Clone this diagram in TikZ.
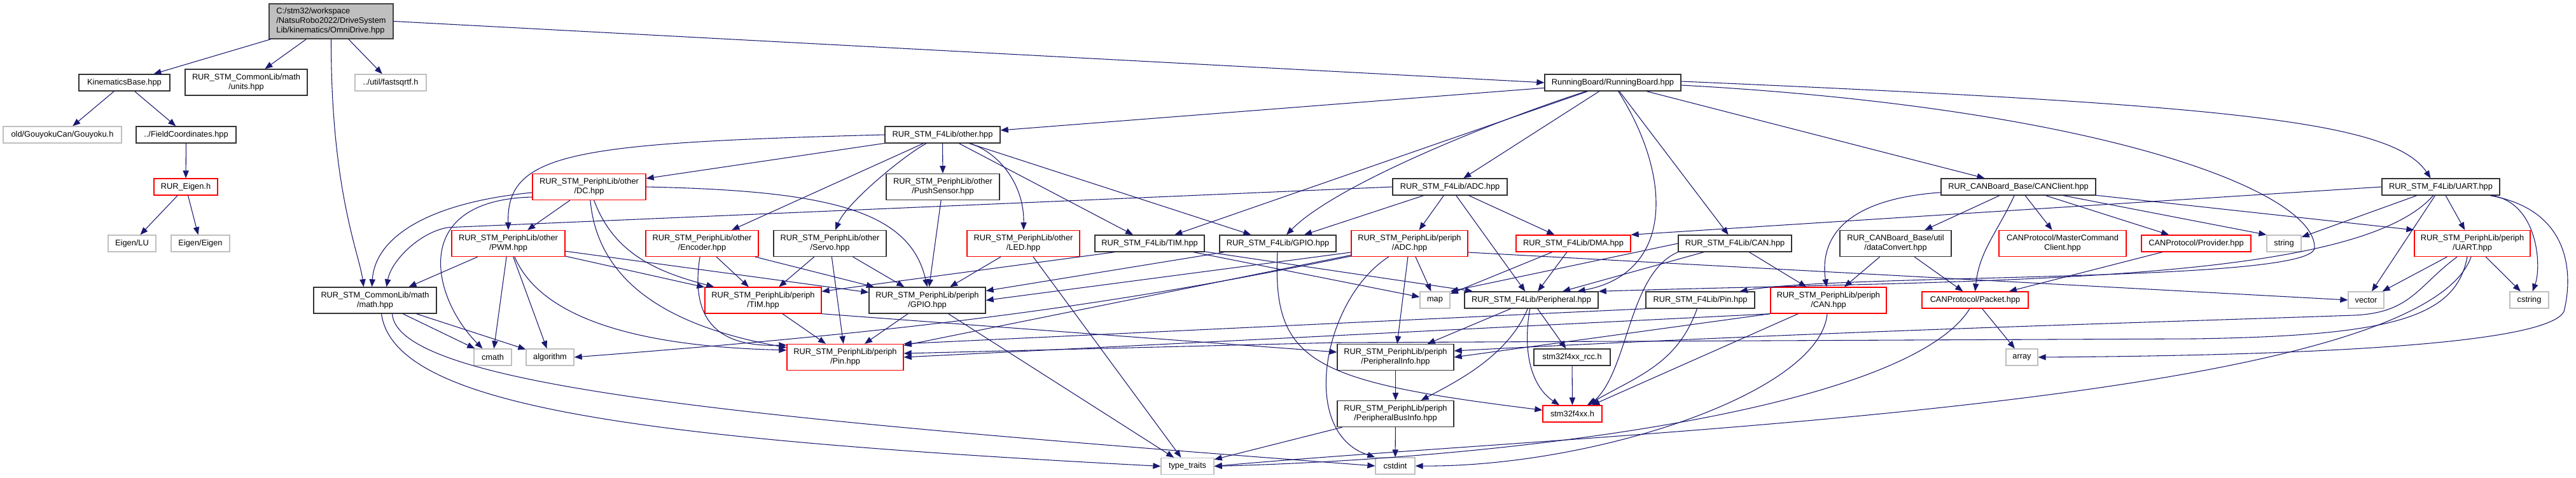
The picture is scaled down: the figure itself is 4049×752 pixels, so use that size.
\documentclass[tikz,border=0pt]{standalone}
\usepackage{fontspec}
\setmainfont{Liberation Sans}
\usepackage{tikz}
\usetikzlibrary{arrows.meta, calc}
\definecolor{edgeblue}{HTML}{191970}
\definecolor{boxgray}{HTML}{BFBFBF}

\begin{document}
\begin{tikzpicture}[
    x=0.75pt, y=-0.75pt,
    >={Triangle[length=9pt, width=7pt]},
    font=\fontsize{9.6}{11.2}\selectfont,
    box/.style={rectangle, inner sep=1pt, align=center, line width=1pt},
    incl/.style={box, draw=black!80},
    trunc/.style={box, draw=red},
    ext/.style={box, draw=boxgray},
    hdr/.style={box, draw=black!75, fill=boxgray, align=left,
                minimum height=41.25pt},
    bw/.style={minimum width=#1*0.75pt},
    one/.style={minimum height=19.5pt},
    two/.style={minimum height=30.75pt},
    dep/.style={->, edgeblue, line width=0.8pt},
]
\useasboundingbox (0,0) rectangle (4049,752);

% ═══════════════════════════════════════════════════════════════════════════
%  Nodes (pixel grid, y downwards)
% ═══════════════════════════════════════════════════════════════════════════
\node[hdr, bw=195] (Main) at (520.5,33.5)
    {C:/stm32/workspace\\/NatsuRobo2022/DriveSystem\\Lib/kinematics/OmniDrive.hpp};

% kinematics side
\node[incl, one, bw=143] (KinB) at (195.5,130) {KinematicsBase.hpp};
\node[incl, two, bw=192] (Units) at (387,129.5) {RUR\_STM\_CommonLib/math\\/units.hpp};
\node[ext, one, bw=112] (FSqrt) at (614,130) {../util/fastsqrtf.h};
\node[ext, one, bw=186] (Gouy) at (98,212) {old/GouyokuCan/Gouyoku.h};
\node[incl, one, bw=157] (FieldC) at (292.5,212) {../FieldCoordinates.hpp};
\node[trunc, one, bw=100] (REigen) at (292,294) {RUR\_Eigen.h};
\node[ext, one, bw=75] (ELU) at (207.5,383) {Eigen/LU};
\node[ext, one, bw=92] (EEig) at (315,383) {Eigen/Eigen};
\node[incl, two, bw=193] (MathH) at (589.5,472.5) {RUR\_STM\_CommonLib/math\\/math.hpp};

% other.hpp family
\node[incl, one, bw=181] (Other) at (1481.5,212) {RUR\_STM\_F4Lib/other.hpp};
\node[trunc, two, bw=178] (DC) at (926,294) {RUR\_STM\_PeriphLib/other\\/DC.hpp};
\node[incl, two, bw=178] (Push) at (1482,294) {RUR\_STM\_PeriphLib/other\\/PushSensor.hpp};
\node[trunc, two, bw=178] (PWM) at (799,383) {RUR\_STM\_PeriphLib/other\\/PWM.hpp};
\node[trunc, two, bw=177] (Enc) at (1103.5,383) {RUR\_STM\_PeriphLib/other\\/Encoder.hpp};
\node[incl, two, bw=177] (Servo) at (1304.5,383) {RUR\_STM\_PeriphLib/other\\/Servo.hpp};
\node[trunc, two, bw=177] (LED) at (1608.5,383) {RUR\_STM\_PeriphLib/other\\/LED.hpp};
\node[incl, one, bw=172] (FTIM) at (1807,383) {RUR\_STM\_F4Lib/TIM.hpp};
\node[incl, one, bw=183] (FGPIO) at (2008.5,383) {RUR\_STM\_F4Lib/GPIO.hpp};
\node[trunc, two, bw=183] (PTIM) at (1199.5,472.5) {RUR\_STM\_PeriphLib/periph\\/TIM.hpp};
\node[incl, two, bw=183] (PGPIO) at (1457.5,472.5) {RUR\_STM\_PeriphLib/periph\\/GPIO.hpp};
\node[trunc, two, bw=183] (PPin) at (1328.5,562) {RUR\_STM\_PeriphLib/periph\\/Pin.hpp};
\node[ext, one, bw=59] (CMath) at (774.5,562) {cmath};
\node[ext, one, bw=75] (Algo) at (864.5,562) {algorithm};
\node[ext, one, bw=83] (TypeT) at (1866.5,733.5) {type\_traits};

% RunningBoard family
\node[incl, one, bw=214] (RunB) at (2535,130) {RunningBoard/RunningBoard.hpp};
\node[incl, one, bw=180] (FADC) at (2279,294) {RUR\_STM\_F4Lib/ADC.hpp};
\node[trunc, two, bw=183] (PADC) at (2215.5,383) {RUR\_STM\_PeriphLib/periph\\/ADC.hpp};
\node[trunc, one, bw=180] (FDMA) at (2473,383) {RUR\_STM\_F4Lib/DMA.hpp};
\node[incl, one, bw=178] (FCAN) at (2727,383) {RUR\_STM\_F4Lib/CAN.hpp};
\node[ext, one, bw=47] (Map) at (2255.5,472) {map};
\node[incl, one, bw=210] (FPeri) at (2407,472) {RUR\_STM\_F4Lib/Peripheral.hpp};
\node[incl, one, bw=171] (FPin) at (2672.5,472) {RUR\_STM\_F4Lib/Pin.hpp};
\node[trunc, two, bw=182] (PCAN) at (2874,472.5) {RUR\_STM\_PeriphLib/periph\\/CAN.hpp};
\node[incl, two, bw=183] (PInfo) at (2193.5,562) {RUR\_STM\_PeriphLib/periph\\/PeripheralInfo.hpp};
\node[incl, one, bw=120] (RCC) at (2471,562) {stm32f4xx\_rcc.h};
\node[incl, two, bw=183] (PBus) at (2193.5,651) {RUR\_STM\_PeriphLib/periph\\/PeripheralBusInfo.hpp};
\node[trunc, one, bw=93] (STM) at (2471.5,651) {stm32f4xx.h};
\node[ext, one, bw=62] (CStdInt) at (2193,733) {cstdint};

% CAN client and UART
\node[incl, one, bw=243] (CANCl) at (3172.5,294) {RUR\_CANBoard\_Base/CANClient.hpp};
\node[incl, two, bw=175] (DConv) at (2979.5,383) {RUR\_CANBoard\_Base/util\\/dataConvert.hpp};
\node[trunc, two, bw=200] (MCmd) at (3242,383) {CANProtocol/MasterCommand\\Client.hpp};
\node[trunc, one, bw=172] (Prov) at (3452,383) {CANProtocol/Provider.hpp};
\node[trunc, one, bw=167] (Pkt) at (3104.5,472) {CANProtocol/Packet.hpp};
\node[ext, one, bw=50] (Arr) at (3178,562) {array};
\node[incl, one, bw=185] (FUART) at (3836.5,294) {RUR\_STM\_F4Lib/UART.hpp};
\node[ext, one, bw=54] (Str) at (3590,383) {string};
\node[trunc, two, bw=182] (PUART) at (3886,383) {RUR\_STM\_PeriphLib/periph\\/UART.hpp};
\node[ext, one, bw=56] (Vec) at (3719,472) {vector};
\node[ext, one, bw=61] (CStr) at (3975.5,472) {cstring};

% ═══════════════════════════════════════════════════════════════════════════
%  Include edges
% ═══════════════════════════════════════════════════════════════════════════
% OmniDrive.hpp
\draw[dep] (Main) -- (KinB);
\draw[dep] (Main) -- (Units);
\draw[dep] (Main) -- (FSqrt);
\draw[dep] (Main.south) .. controls (520,300) and (565,400) .. ($(MathH.north)+(-18,0)$);
\draw[dep] (Main.east) -- (RunB.west);

% kinematics side
\draw[dep] (KinB) -- (Gouy);
\draw[dep] (KinB) -- (FieldC);
\draw[dep] (FieldC) -- (REigen);
\draw[dep] (REigen) -- (ELU);
\draw[dep] (REigen) -- (EEig);

% math.hpp
\draw[dep] (MathH) -- (CMath);
\draw[dep] (MathH) -- (Algo);
\draw[dep] ($(MathH.south)+(27,0)$) .. controls (625,610) and (1200,660) .. (CStdInt.west);
\draw[dep] ($(MathH.south)+(10,0)$) .. controls (620,640) and (1000,690) .. (TypeT.west);

% RunningBoard.hpp
\draw[dep] (RunB) -- (Other);
\draw[dep] (RunB) -- (FTIM);
\draw[dep] (RunB) .. controls (2350,190) and (2100,290) .. (FGPIO);
\draw[dep] (RunB) -- (FADC);
\draw[dep] (RunB) .. controls (2630,280) and (2630,430) .. (FPeri);
\draw[dep] (RunB) -- (FCAN);
\draw[dep] (RunB) -- (CANCl);
\draw[dep] ($(RunB.east)+(0,-2)$) .. controls (3500,165) and (3760,190)
    .. ($(FUART.north)+(-16,0)$);
\draw[dep] ($(RunB.east)+(0,4)$) .. controls (3300,170) and (3640,300) .. (3638,390)
    .. controls (3636,445) and (2900,430) .. ($(FPin.north east)+(-24,0)$);

% other.hpp
\draw[dep] (Other) -- (DC);
\draw[dep] (Other.west) .. controls (900,225) and (796,240) .. (PWM.north);
\draw[dep] (Other) -- (Enc);
\draw[dep] (Other) .. controls (1420,245) and (1330,320) .. (Servo);
\draw[dep] (Other) -- (Push);
\draw[dep] (Other) .. controls (1570,240) and (1610,290) .. (LED);
\draw[dep] (Other) -- (FTIM);
\draw[dep] (Other) -- (FGPIO);

% DC / PWM / Encoder / Servo / PushSensor / LED
\draw[dep] (DC) -- (PWM);
\draw[dep] ($(DC.west)+(0,9)$) .. controls (680,318) and (590,370) .. ($(MathH.north)+(-5,0)$);
\draw[dep] ($(DC.west)+(0,16)$) .. controls (640,315) and (680,470) .. ($(CMath.north)+(-16,0)$);
\draw[dep] (DC.-70) .. controls (965,400) and (1034,428) .. ($(PTIM.north west)+(15,0)$);
\draw[dep] (DC.-85) .. controls (941,464) and (1088,520) .. ($(PPin.north west)+(0,6)$);
\draw[dep] (DC.east) .. controls (1300,300) and (1430,330) .. (PGPIO.north);
\draw[dep] (PWM) -- (PTIM);
\draw[dep] (PWM) -- (PGPIO);
\draw[dep] (PWM) -- (CMath);
\draw[dep] (PWM) -- (Algo);
\draw[dep] (PWM.-65) .. controls (850,500) and (1000,545) .. ($(PPin.north west)+(0,10)$);
\draw[dep] (PWM) -- ($(MathH.north)+(53,0)$);
\draw[dep] (Enc) -- (PTIM);
\draw[dep] (Enc) .. controls (1080,530) and (1160,545) .. ($(PPin.north west)+(0,2)$);
\draw[dep] (Enc) -- (PGPIO);
\draw[dep] (Servo) -- (PTIM);
\draw[dep] (Servo) -- (PPin);
\draw[dep] (Servo) -- (PGPIO);
\draw[dep] (Push) -- (PGPIO);
\draw[dep] (LED) -- (PGPIO);
\draw[dep] (LED) -- (TypeT);

% periph TIM / GPIO
\draw[dep] (PTIM) -- (PPin);
\draw[dep] (PTIM.south east) -- ($(PInfo.west)+(0,-8)$);
\draw[dep] (PGPIO) -- (PPin);
\draw[dep] (PGPIO) -- (TypeT);

% F4Lib TIM / GPIO
\draw[dep] ($(FTIM.south)+(-55,0)$) -- ($(PTIM.east)+(0,-14)$);
\draw[dep] (FTIM) -- (Map);
\draw[dep] (FTIM) -- (FPeri);
\draw[dep] (FGPIO) -- (PGPIO);
\draw[dep] (FGPIO) .. controls (2000,570) and (2060,600) .. (STM);

% F4Lib ADC
\draw[dep] (FADC) -- (PADC);
\draw[dep] (FADC) -- (FPeri);
\draw[dep] (FADC) -- (FDMA);
\draw[dep] (FADC) -- (FGPIO);
\draw[dep] (FADC.west) -- ($(PWM.north west)+(-5,-4)$)
    .. controls (660,365) and (615,410) .. ($(MathH.north)+(18,0)$);

% periph ADC
\draw[dep] ($(PADC.west)+(0,14)$) -- (PGPIO.east);
\draw[dep] (PADC) -- (PPin);
\draw[dep] ($(PADC.west)+(0,20)$) .. controls (1750,480) and (1450,520) .. (Algo.east);
\draw[dep] (PADC) -- (Map);
\draw[dep] (PADC) -- (PInfo);
\draw[dep] (PADC) .. controls (2080,470) and (2040,680) .. (CStdInt.north west);
\draw[dep] ($(PADC.east)+(0,14)$) -- (Vec.west);

% F4Lib DMA / CAN
\draw[dep] (FDMA) -- (Map);
\draw[dep] (FDMA) -- (FPeri);
\draw[dep] (FCAN.west) -- (Map.north east);
\draw[dep] (FCAN) -- (FPeri);
\draw[dep] (FCAN.south west) .. controls (2560,430) and (2560,580) .. ($(STM.north east)+(-20,0)$);
\draw[dep] (FCAN) -- (PCAN);

% F4Lib Peripheral / Pin
\draw[dep] (FPeri) -- (PInfo);
\draw[dep] (FPeri) .. controls (2370,560) and (2290,600) .. (PBus);
\draw[dep] (FPeri) .. controls (2392,560) and (2410,610) .. (STM);
\draw[dep] (FPeri) -- (RCC);
\draw[dep] (FPin.south west) -- (PPin.north east);
\draw[dep] (FPin.-110) .. controls (2636,573) and (2575,591) .. ($(STM.north east)+(-24,0)$);

% periph CAN / info / bus
\draw[dep] (PCAN.south west) -- (PInfo.east);
\draw[dep] (PCAN.south west) -- (PPin.east);
\draw[dep] (PCAN) -- (STM);
\draw[dep] (PCAN) .. controls (2860,620) and (2500,735) .. (CStdInt.east);
\draw[dep] (PInfo) -- (PBus);
\draw[dep] (RCC) -- (STM);
\draw[dep] (PBus) -- (CStdInt);
\draw[dep] (PBus) -- (TypeT);

% CANClient.hpp
\draw[dep] (CANCl) .. controls (2880,315) and (2862,390) .. (PCAN);
\draw[dep] (CANCl) -- (DConv);
\draw[dep] (CANCl.-115) .. controls (3139,366) and (3111,395) .. (Pkt.north);
\draw[dep] (CANCl) -- (MCmd);
\draw[dep] (CANCl) -- (Prov);
\draw[dep] (CANCl) -- (Str.north west);
\draw[dep] (CANCl) -- (PUART.north west);
\draw[dep] (DConv) -- (PCAN);
\draw[dep] (DConv) -- (Pkt);
\draw[dep] (Prov) -- (Pkt);
\draw[dep] (Pkt) -- (Arr);
\draw[dep] (Pkt) .. controls (3000,640) and (2400,720) .. (TypeT.east);

% UART
\draw[dep] (FUART.west) -- (FDMA.north east);
\draw[dep] (FUART) -- (Str);
\draw[dep] (FUART) -- (Vec);
\draw[dep] (FUART) -- (PUART);
\draw[dep] (FUART) .. controls (3990,320) and (3995,420) .. (CStr);
\draw[dep] (FUART) .. controls (4040,330) and (4045,430) .. (4030,490)
    .. controls (4000,550) and (3500,560) .. (Arr.east);
\draw[dep] (FUART) .. controls (3700,450) and (3100,440) .. (FPeri.north east);
\draw[dep] (PUART) -- (Vec);
\draw[dep] (PUART) -- (CStr);
\draw[dep] ($(PUART.south)+(-24,0)$) .. controls (3800,450) and (3790,492) .. (3700,496)
    .. controls (3300,510) and (2900,520) .. ($(PInfo.east)+(0,-10)$);
\draw[dep] ($(PUART.south)+(-8,0)$) .. controls (3860,500) and (3760,528) .. (3450,533)
    -- (2100,539) -- ($(PPin.east)+(0,-6)$);
\draw[dep] ($(PUART.south)+(-2,0)$) .. controls (3800,640) and (2500,680) .. (TypeT.east);

\end{tikzpicture}
\end{document}
